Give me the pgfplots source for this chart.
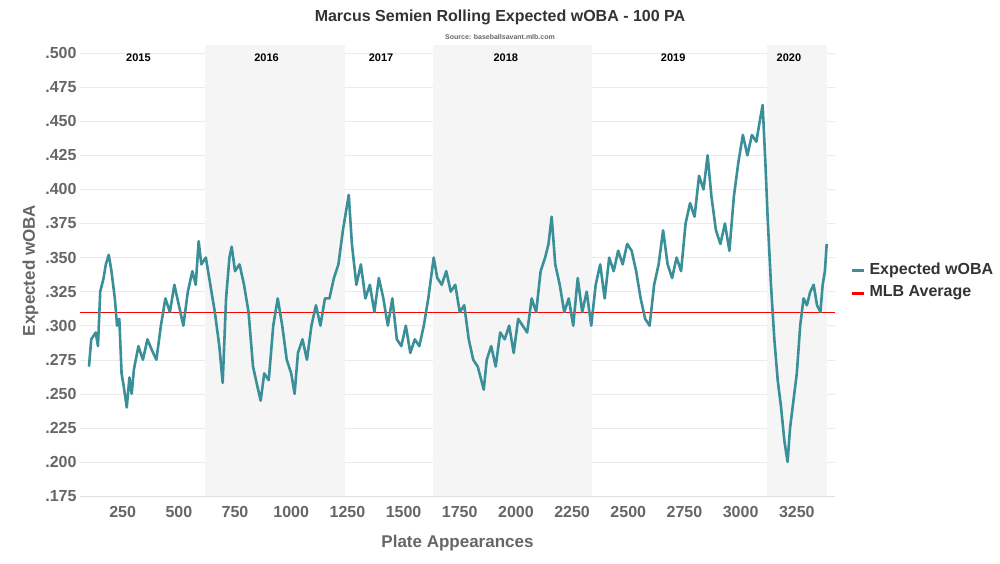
\documentclass[border=0pt]{standalone}
\usepackage{pgfplots}
\pgfplotsset{compat=1.18}
\usepackage{fontspec}
\setmainfont{Liberation Sans}
\definecolor{teal}{HTML}{3A8F99}
\definecolor{tgray}{HTML}{666666}
\begin{document}
\begin{tikzpicture}[x=1pt,y=1pt]
\path (0,0) rectangle (1000,563);
\begin{axis}[at={(80pt,67pt)},anchor=south west,scale only axis,width=755pt,height=451pt,
 xmin=60,xmax=3420,ymin=0.175,ymax=0.506,
 axis line style={draw=none},
 ytick={0.175,0.2,0.225,0.25,0.275,0.3,0.325,0.35,0.375,0.4,0.425,0.45,0.475,0.5},
 yticklabels={.175,.200,.225,.250,.275,.300,.325,.350,.375,.400,.425,.450,.475,.500},
 xtick={250,500,...,3250},
 ymajorgrids, grid style={draw=black!8},
 major tick length=0pt,
 tick label style={font=\fontsize{16}{18}\selectfont\bfseries,text=tgray},
 xticklabel style={yshift=-7pt},
 /pgf/number format/assume math mode=true,
 /pgf/number format/set thousands separator={},
 xlabel={Plate Appearances},ylabel={Expected wOBA},
 label style={font=\fontsize{17}{20}\selectfont\bfseries,text=tgray},
 xlabel style={yshift=-10pt},
 clip=false]
\fill[black!4] (axis cs:615,0.175) rectangle (axis cs:1240,0.506);
\fill[black!4] (axis cs:1630,0.175) rectangle (axis cs:2340,0.506);
\fill[black!4] (axis cs:3116,0.175) rectangle (axis cs:3383,0.506);
\draw[black!12] (axis cs:60,0.175) -- (axis cs:3420,0.175);
\node[font=\bfseries\fontsize{11}{13}\selectfont] at (axis cs:320,0.497) {2015};
\node[font=\bfseries\fontsize{11}{13}\selectfont] at (axis cs:890,0.497) {2016};
\node[font=\bfseries\fontsize{11}{13}\selectfont] at (axis cs:1400,0.497) {2017};
\node[font=\bfseries\fontsize{11}{13}\selectfont] at (axis cs:1955,0.497) {2018};
\node[font=\bfseries\fontsize{11}{13}\selectfont] at (axis cs:2700,0.497) {2019};
\node[font=\bfseries\fontsize{11}{13}\selectfont] at (axis cs:3215,0.497) {2020};
\addplot[red,thin,forget plot] coordinates {(60,0.310) (3420,0.310)};
\addplot[teal,line width=2.6pt,line join=round] coordinates {
(100,.270)(110,.290)(130,.295)(140,.285)(150,.325)(165,.335)(175,.345)(188,.352)(200,.340)(215,.320)(225,.300)(235,.305)(245,.265)(255,.255)(268,.240)(280,.262)(290,.250)(300,.268)(320,.285)(340,.275)(360,.290)(380,.282)(400,.275)(420,.300)(440,.320)(460,.310)(480,.330)(500,.315)(520,.300)(540,.325)(560,.340)(575,.330)(588,.362)(600,.345)(620,.350)(640,.330)(660,.310)(680,.285)(695,.258)(710,.320)(725,.350)(735,.358)(750,.340)(770,.345)(790,.330)(810,.310)(830,.270)(850,.255)(864,.245)(880,.265)(900,.260)(920,.300)(940,.320)(960,.300)(980,.275)(1000,.265)(1015,.250)(1030,.280)(1050,.290)(1070,.275)(1090,.300)(1110,.315)(1130,.300)(1150,.320)(1170,.320)(1190,.335)(1210,.345)(1230,.370)(1245,.385)(1256,.396)(1270,.360)(1290,.330)(1310,.345)(1330,.320)(1350,.330)(1370,.310)(1390,.335)(1410,.320)(1430,.300)(1450,.320)(1470,.290)(1490,.285)(1510,.300)(1530,.280)(1550,.290)(1570,.285)(1590,.300)(1610,.320)(1634,.350)(1650,.335)(1670,.330)(1690,.340)(1710,.325)(1730,.330)(1750,.310)(1770,.315)(1790,.290)(1810,.275)(1830,.270)(1857,.253)(1870,.275)(1890,.285)(1910,.270)(1930,.295)(1950,.290)(1970,.300)(1990,.280)(2010,.305)(2030,.300)(2050,.295)(2070,.320)(2090,.310)(2110,.340)(2130,.350)(2145,.360)(2159,.380)(2175,.345)(2195,.330)(2215,.310)(2235,.320)(2255,.300)(2275,.335)(2295,.310)(2315,.325)(2335,.300)(2355,.330)(2375,.345)(2395,.320)(2415,.350)(2435,.340)(2455,.355)(2475,.345)(2495,.360)(2515,.355)(2535,.340)(2555,.320)(2575,.305)(2595,.300)(2615,.330)(2635,.345)(2655,.370)(2675,.345)(2695,.335)(2715,.350)(2735,.340)(2755,.375)(2775,.390)(2795,.380)(2815,.410)(2835,.400)(2853,.425)(2870,.395)(2890,.370)(2910,.360)(2930,.375)(2950,.355)(2970,.395)(2990,.420)(3010,.440)(3030,.425)(3050,.440)(3070,.435)(3085,.450)(3098,.462)(3110,.420)(3120,.380)(3135,.330)(3150,.290)(3165,.260)(3180,.240)(3195,.215)(3209,.200)(3220,.225)(3235,.245)(3250,.265)(3265,.300)(3280,.320)(3295,.315)(3310,.325)(3325,.330)(3340,.315)(3355,.310)(3365,.330)(3375,.340)(3383,.360)};
\end{axis}
\node[font=\fontsize{16}{18}\selectfont\bfseries,text=black!80] at (500,546) {Marcus Semien Rolling Expected wOBA - 100 PA};
\node[font=\fontsize{7}{8}\selectfont\bfseries,text=tgray] at (500,526) {Source: baseballsavant.mlb.com};
\draw[teal,line width=3pt] (852,293) -- (864,293);
\node[anchor=west,font=\fontsize{16}{18}\selectfont\bfseries,text=black!80] at (866,293) {Expected wOBA};
\draw[red,line width=3pt] (852,270) -- (864,270);
\node[anchor=west,font=\fontsize{16}{18}\selectfont\bfseries,text=black!80] at (866,270) {MLB Average};
\end{tikzpicture}
\end{document}
